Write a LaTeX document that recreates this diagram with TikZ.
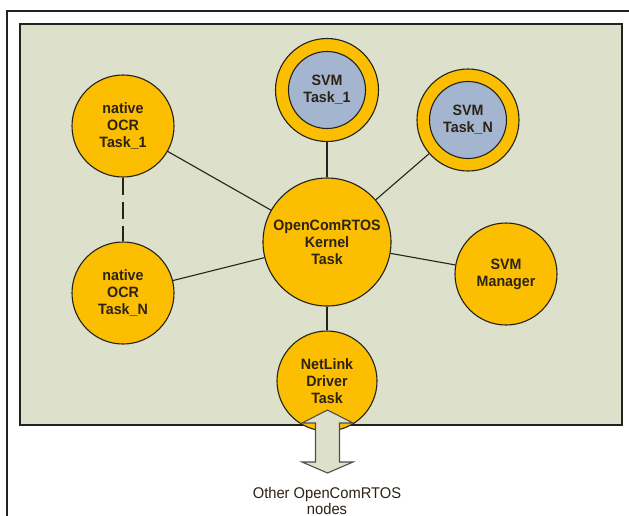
\documentclass[tikz,border=0pt]{standalone}
\usepackage{fontspec}
\setmainfont{Liberation Sans}
\newfontfamily\nodefont[FakeStretch=0.95]{Liberation Sans}
\definecolor{panel}{RGB}{221,224,203}
\definecolor{gold}{RGB}{251,190,0}
\definecolor{bluish}{RGB}{163,181,207}
\definecolor{edge}{RGB}{35,35,30}
\definecolor{txt}{RGB}{45,35,20}
\tikzset{
  task/.style={circle, draw=edge, line width=1.1pt, fill=gold, minimum size=102pt, inner sep=0pt,
    align=center, text=txt, font=\nodefont\bfseries\fontsize{15}{17}\selectfont},
  inner/.style={circle, draw=edge, line width=1.1pt, fill=bluish, minimum size=77pt, inner sep=0pt,
    align=center, text=txt, font=\nodefont\bfseries\fontsize{15}{17}\selectfont},
  link/.style={draw=edge, line width=1.1pt},
  blockarrow/.style={draw=edge!80, line width=1.1pt, fill=panel}
}
\begin{document}
\begin{tikzpicture}[x=1pt,y=-1pt]
\useasboundingbox (0,0) rectangle (629,515);
\fill[white] (0,0) rectangle (629,515);
% outer frame
\draw[edge, line width=1.2pt] (7,11) rectangle (660,560);
% panel
\draw[edge, line width=1.5pt, fill=panel] (20,24) rectangle (622,425);

% nodes
\node[task, minimum size=128pt] (kernel) at (327,242) {OpenComRTOS\\Kernel\\Task};
\node[task, minimum size=103pt] (svm1) at (327,90) {};
\node[inner] (svm1in) at (327,90) {SVM\\Task\_1};
\node[task] (svmN) at (468,120) {};
\node[inner] (svmNin) at (468,120) {SVM\\Task\_N};
\node[task] (ocr1) at (123,126) {native\\OCR\\Task\_1};
\node[task] (ocrN) at (123,293) {native\\OCR\\Task\_N};
\node[task] (mgr) at (506,274) {SVM\\Manager};
\node[task, minimum size=100pt] (net) at (327,381) {NetLink\\Driver\\Task};

% connectors
\draw[link] (svm1) -- (kernel);
\draw[link] (svmN) -- (kernel);
\draw[link] (ocr1) -- (kernel);
\draw[link] (ocrN) -- (kernel);
\draw[link] (mgr) -- (kernel);
\draw[link] (kernel) -- (net);
\draw[link, dash pattern=on 17pt off 7pt] (ocr1) -- (ocrN);

% double block arrow
\coordinate (ac) at (327.5,441.5);
\draw[blockarrow] ([shift={(0,-31.5)}]ac) -- ([shift={(25.5,-18.5)}]ac) -- ([shift={(12,-18.5)}]ac)
  -- ([shift={(12,20.5)}]ac) -- ([shift={(25.5,20.5)}]ac) -- ([shift={(0,31.5)}]ac)
  -- ([shift={(-25.5,20.5)}]ac) -- ([shift={(-12,20.5)}]ac) -- ([shift={(-12,-18.5)}]ac)
  -- ([shift={(-25.5,-18.5)}]ac) -- cycle;

\node[align=center, text=txt, font=\nodefont\fontsize{15.5}{16}\selectfont, anchor=north] (other) at (327,484) {Other OpenComRTOS\\nodes};
\end{tikzpicture}
\end{document}
